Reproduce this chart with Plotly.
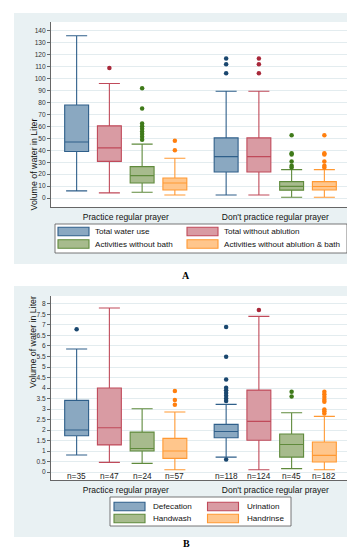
import plotly.graph_objects as go

W, H = 355, 550
FONT = "Liberation Sans"

groups = ["Practice regular prayer", "Don't practice regular prayer"]

# ---------- Panel A data (liters), per series: [group0, group1] ----------
a_names = ["Total water use", "Total without ablution",
           "Activities without bath", "Activities without ablution & bath"]
a_lower = [[6, 2.6], [4.3, 2.6], [4.8, 0.7], [2.6, 0.7]]
a_q1 = [[39, 21.8], [30.7, 21.8], [12.6, 6.6], [6.8, 6.8]]
a_median = [[47, 34.7], [42, 34.7], [18.8, 9.8], [12.6, 9.7]]
a_q3 = [[78, 50.4], [60.5, 50.4], [26.3, 13.8], [16.8, 13.8]]
a_upper = [[136, 89.5], [96, 89.5], [45.2, 23.8], [33.3, 23.8]]
a_out = [
    [[], [117, 112, 104.5]],
    [[109], [117, 112, 104.5]],
    [[92, 75, 62.5, 60.2, 58, 55.8, 53.6, 51.4, 48.9], [52.7, 37.5, 36.5, 30.7, 27, 25.5]],
    [[48, 40], [52.7, 37.5, 36.5, 30.7, 27, 25.5]],
]
a_ticks = list(range(0, 141, 10))

# ---------- Panel B data (liters) ----------
b_names = ["Defecation", "Urination", "Handwash", "Handrinse"]
b_lower = [[0.81, 0.71], [0.46, 0.11], [0.41, 0.16], [0.11, 0.11]]
b_q1 = [[1.73, 1.63], [1.29, 1.51], [1.0, 0.71], [0.65, 0.48]]
b_median = [[2.0, 1.93], [2.11, 2.41], [1.12, 1.31], [1.0, 0.79]]
b_q3 = [[3.41, 2.27], [4.0, 3.9], [1.9, 1.81], [1.6, 1.43]]
b_upper = [[5.86, 3.22], [7.81, 7.41], [3.01, 2.82], [2.86, 2.65]]
b_out = [
    [[6.8], [6.9, 5.49, 4.41, 4.01, 3.89, 3.76, 3.63, 3.5, 3.38, 0.6]],
    [[], [7.71]],
    [[], [3.82, 3.6]],
    [[3.86, 3.43, 3.2], [3.82, 3.7, 3.57, 3.44, 3.35, 2.98, 2.89, 2.79]],
]
b_n = [[35, 118], [47, 124], [24, 45], [57, 182]]
b_ticks = [i * 0.5 for i in range(17)]

# ---------- styles ----------
fills = ["#8aa8c1", "#d99ba3", "#a7bb8d", "#ffc68c"]
lines = ["#2f5f8a", "#c04a5a", "#5f8a3c", "#ff9933"]
dots = ["#1a476f", "#a8283a", "#3f7a1a", "#ff7f0e"]
panel_bg = "#e9f1f3"
grid_c = "#e3ecef"
axis_c = "#666666"

STEP, BW = 0.219, 0.16


def pos(g, s):
    return g + (s - 1.5) * STEP


def px_x(p):
    return p / W


def px_y(p):
    return 1 - p / H


# layout geometry (pixels)
A_dom = dict(x=(43, 342), y=(14, 199))
B_dom = dict(x=(43, 342), y=(288, 472))

fig = go.Figure()


def add_panel(names, lower, q1, med, q3, upper, outs, xa, ya):
    for s in range(4):
        xs = [pos(g, s) for g in range(2)]
        fig.add_trace(go.Box(
            x=xs, q1=q1[s], median=med[s], q3=q3[s],
            lowerfence=lower[s], upperfence=upper[s],
            width=BW, whiskerwidth=0.88, boxpoints=False,
            fillcolor=fills[s], line=dict(color=lines[s], width=1.1),
            name=names[s], showlegend=False, xaxis=xa, yaxis=ya,
            hoverinfo="skip"))
        ox, oy = [], []
        for g in range(2):
            ox += [pos(g, s)] * len(outs[s][g])
            oy += outs[s][g]
        fig.add_trace(go.Scatter(
            x=ox, y=oy, mode="markers",
            marker=dict(color=dots[s], size=4.5),
            showlegend=False, xaxis=xa, yaxis=ya, hoverinfo="skip"))


add_panel(a_names, a_lower, a_q1, a_median, a_q3, a_upper, a_out, "x", "y")
add_panel(b_names, b_lower, b_q1, b_median, b_q3, b_upper, b_out, "x2", "y2")

# n= labels for panel B
annotations = []
for s in range(4):
    for g in range(2):
        annotations.append(dict(
            x=pos(g, s), y=-0.17, xref="x2", yref="y2", text=f"n={b_n[s][g]}",
            showarrow=False, font=dict(family=FONT, size=8.3, color="#222"),
            yanchor="middle"))

shapes = []
for (top, bot) in [(5, 256), (278, 529)]:
    shapes.append(dict(type="rect", xref="paper", yref="paper",
                       x0=px_x(6), x1=px_x(350), y0=px_y(bot), y1=px_y(top),
                       fillcolor=panel_bg, line=dict(width=0), layer="below"))
for d in (A_dom, B_dom):
    shapes.append(dict(type="rect", xref="paper", yref="paper",
                       x0=px_x(d["x"][0]), x1=px_x(d["x"][1]),
                       y0=px_y(d["y"][1]), y1=px_y(d["y"][0]),
                       fillcolor="white", line=dict(width=0), layer="below"))


def add_legend(names, box, col_x, rows_y, text_dx):
    x0, x1, y0, y1 = box
    shapes.append(dict(type="rect", xref="paper", yref="paper",
                       x0=px_x(x0), x1=px_x(x1), y0=px_y(y1), y1=px_y(y0),
                       fillcolor="white", line=dict(color="#555", width=0.8)))
    for s in range(4):
        cx = col_x[s % 2]
        cy = rows_y[s // 2]
        shapes.append(dict(type="rect", xref="paper", yref="paper",
                           x0=px_x(cx), x1=px_x(cx + 31),
                           y0=px_y(cy + 4.3), y1=px_y(cy - 4.3),
                           fillcolor=fills[s], line=dict(color=lines[s], width=1.1)))
        annotations.append(dict(x=px_x(cx + text_dx), y=px_y(cy), xref="paper", yref="paper",
                                text=names[s], showarrow=False, xanchor="left",
                                yanchor="middle",
                                font=dict(family=FONT, size=8.1, color="#111")))


add_legend(a_names, (47, 339, 216, 245), (50, 179), (223.5, 236), 35)
add_legend(b_names, (102, 283, 489, 518), (106, 199.5), (498.5, 510.5), 37)

for lbl, yy in [("A", 267), ("B", 543)]:
    annotations.append(dict(x=px_x(178), y=px_y(yy), xref="paper", yref="paper",
                            text=f"<b>{lbl}</b>", showarrow=False,
                            font=dict(family="Liberation Serif", size=10, color="#000")))

# y-axis titles
for d in (A_dom, B_dom):
    annotations.append(dict(x=px_x(18), y=px_y((d["y"][0] + d["y"][1]) / 2 + 2),
                            xref="paper", yref="paper",
                            text="Volume of water in Liter", textangle=-90,
                            showarrow=False,
                            font=dict(family=FONT, size=8.8, color="#111")))

xcommon = dict(range=[-0.5, 1.5], tickvals=[0, 1], ticktext=groups,
               showgrid=False, zeroline=False, showline=True, linecolor=axis_c,
               linewidth=1, ticks="outside", ticklen=2, tickcolor="rgba(0,0,0,0)",
               tickfont=dict(family=FONT, size=8.5, color="#111"), fixedrange=True)
ycommon = dict(showgrid=True, gridcolor=grid_c, gridwidth=1, zeroline=False,
               showline=True, linecolor=axis_c, linewidth=1, ticks="outside",
               ticklen=3, tickcolor=axis_c, tickwidth=0.8,
               tickfont=dict(family=FONT, size=6.6, color="#333"), fixedrange=True)

fig.update_layout(
    width=W, height=H, margin=dict(l=0, r=0, t=0, b=0),
    paper_bgcolor="white", plot_bgcolor="rgba(0,0,0,0)",
    boxmode="overlay", showlegend=False,
    xaxis=dict(domain=[px_x(A_dom["x"][0]), px_x(A_dom["x"][1])], anchor="y", **xcommon),
    yaxis=dict(domain=[px_y(A_dom["y"][1]), px_y(A_dom["y"][0])], anchor="x",
               range=[-7.5, 147.5], tickvals=a_ticks, **ycommon),
    xaxis2=dict(domain=[px_x(B_dom["x"][0]), px_x(B_dom["x"][1])], anchor="y2", **xcommon),
    yaxis2=dict(domain=[px_y(B_dom["y"][1]), px_y(B_dom["y"][0])], anchor="x2",
                range=[-0.38, 8.38], tickvals=b_ticks,
                ticktext=[("%g" % t) for t in b_ticks], **ycommon),
    shapes=shapes, annotations=annotations,
)

fig.write_html("out.html")
